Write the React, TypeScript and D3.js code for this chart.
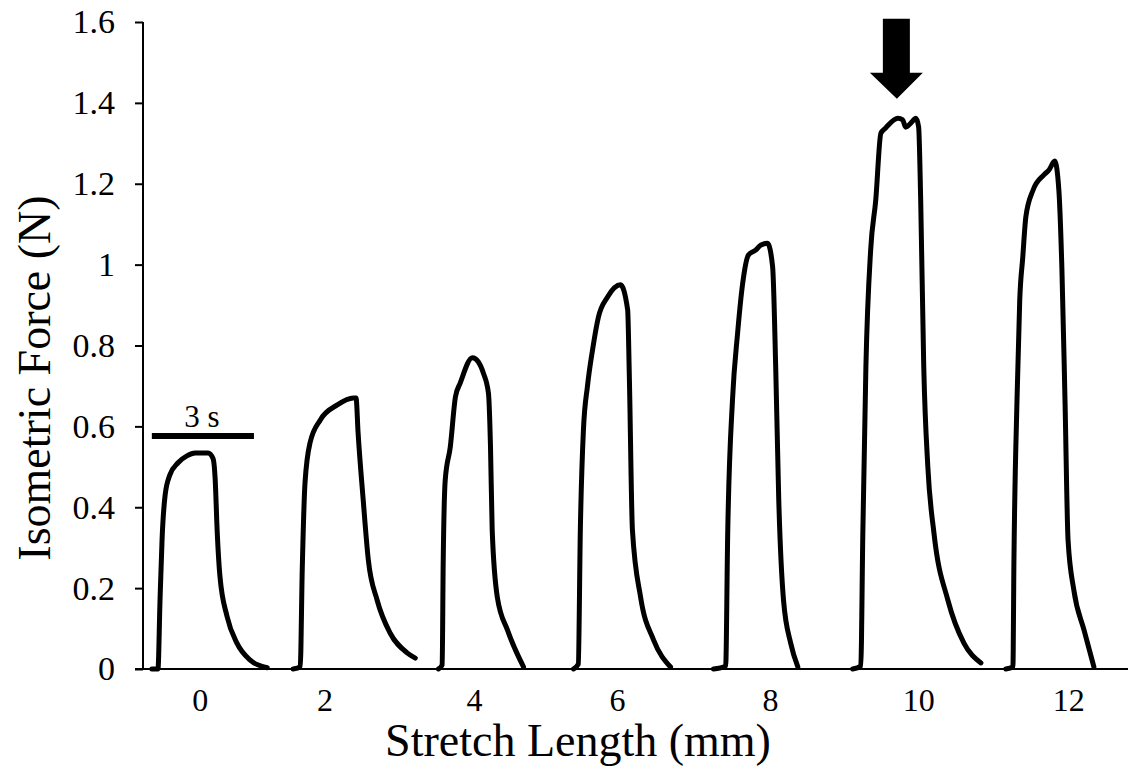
import React, { useEffect, useRef } from "react";
import * as d3 from "d3";

// stretch lengths (mm) shown under each twitch
const stretchLabels = ["0", "2", "4", "6", "8", "10", "12"];
// where each label sits on the time axis (s)
const labelTimes = [1.68, 5.35, 9.74, 13.94, 18.44, 22.79, 27.2];

const yTicks = [0, 0.2, 0.4, 0.6, 0.8, 1, 1.2, 1.4, 1.6];

// force traces, [time (s), force (N)]
const trace0: [number, number][] = [
  [0.26, 0], [0.44, 0.0], [0.5, 0.17], [0.56, 0.32], [0.65, 0.43], [0.79, 0.48],
  [1.03, 0.51], [1.29, 0.527], [1.53, 0.534], [1.91, 0.534], [2.06, 0.52],
  [2.12, 0.47], [2.18, 0.34], [2.26, 0.23], [2.47, 0.13], [2.76, 0.064],
  [3.15, 0.022], [3.65, 0.003],
];
const trace2: [number, number][] = [
  [4.41, 0], [4.62, 0.005], [4.68, 0.25], [4.76, 0.46], [4.91, 0.56],
  [5.21, 0.616], [5.71, 0.653], [6.18, 0.67], [6.26, 0.67], [6.32, 0.584],
  [6.47, 0.418], [6.62, 0.27], [6.88, 0.17], [7.26, 0.089], [7.76, 0.04],
  [8.0, 0.027],
];
const trace4: [number, number][] = [
  [8.68, 0], [8.79, 0.01], [8.82, 0.26], [8.88, 0.467], [9.03, 0.55],
  [9.18, 0.673], [9.32, 0.707], [9.68, 0.77], [9.85, 0.76], [10.0, 0.732],
  [10.15, 0.682], [10.21, 0.55], [10.26, 0.344], [10.41, 0.178],
  [10.71, 0.096], [11.18, 0.005],
];
const trace6: [number, number][] = [
  [12.65, 0], [12.79, 0.012], [12.85, 0.344], [12.94, 0.59], [13.06, 0.7],
  [13.21, 0.79], [13.38, 0.87], [13.65, 0.92], [14.03, 0.95], [14.24, 0.888],
  [14.29, 0.722], [14.38, 0.344], [14.62, 0.178], [15.0, 0.072], [15.5, 0.005],
];
const trace8: [number, number][] = [
  [16.76, 0], [17.12, 0.007], [17.18, 0.336], [17.32, 0.665], [17.47, 0.83],
  [17.62, 0.954], [17.79, 1.024], [18.0, 1.036], [18.15, 1.048],
  [18.35, 1.053], [18.5, 0.994], [18.59, 0.747], [18.68, 0.418],
  [18.82, 0.17], [19.03, 0.064], [19.24, 0.005],
];
const trace10: [number, number][] = [
  [20.85, 0], [21.09, 0.007], [21.15, 0.336], [21.24, 0.747], [21.38, 1.036],
  [21.53, 1.16], [21.68, 1.325], [21.82, 1.338], [22.18, 1.362],
  [22.32, 1.358], [22.41, 1.34], [22.56, 1.35], [22.71, 1.362], [22.79, 1.34],
  [22.85, 1.16], [22.94, 0.747], [23.06, 0.5], [23.24, 0.336], [23.65, 0.17],
  [24.12, 0.064], [24.62, 0.015],
];
const trace12: [number, number][] = [
  [25.35, 0], [25.56, 0.005], [25.59, 0.27], [25.68, 0.665], [25.76, 0.912],
  [25.85, 1.019], [25.94, 1.118], [26.15, 1.184], [26.47, 1.222],
  [26.62, 1.234], [26.79, 1.256], [26.91, 1.184], [27.0, 0.987],
  [27.09, 0.665], [27.18, 0.319], [27.35, 0.195], [27.65, 0.096],
  [27.94, 0.005],
];
const traces = [trace0, trace2, trace4, trace6, trace8, trace10, trace12];

// 3 s scale bar and the arrow over the optimal length
const scaleBar = { start: 0.26, length: 3, force: 0.576, label: "3 s" };
const arrowTip = { time: 22.15, force: 1.41 };

const W = 1130;
const H = 768;

const ForceChart = () => {
  const ref = useRef<SVGSVGElement | null>(null);

  useEffect(() => {
    if (!ref.current) return;
    const svg = d3.select(ref.current);
    svg.selectAll("*").remove();

    const font = "'Liberation Serif', 'Times New Roman', serif";
    const x = d3.scaleLinear().domain([0, 29]).range([143, 1130]);
    const y = d3.scaleLinear().domain([0, 1.6]).range([669, 22]);

    // y axis
    const yAxis = svg
      .append("g")
      .attr("transform", `translate(${x(0)},0)`)
      .call(
        d3
          .axisLeft(y)
          .tickValues(yTicks)
          .tickSize(8)
          .tickPadding(20)
          .tickFormat((d) => d3.format("")(+d))
      );
    yAxis.select(".domain").remove();
    yAxis.selectAll("line").attr("stroke", "#000").attr("stroke-width", 2);
    yAxis
      .selectAll("text")
      .attr("font-family", font)
      .attr("font-size", 34)
      .attr("fill", "#000");
    svg
      .append("line")
      .attr("x1", x(0))
      .attr("x2", x(0))
      .attr("y1", y(1.6))
      .attr("y2", y(0))
      .attr("stroke", "#000")
      .attr("stroke-width", 2);

    // x axis line
    svg
      .append("line")
      .attr("x1", x(0) - 8)
      .attr("x2", 1128)
      .attr("y1", y(0))
      .attr("y2", y(0))
      .attr("stroke", "#000")
      .attr("stroke-width", 2);

    // stretch length labels
    svg
      .append("g")
      .selectAll("text")
      .data(stretchLabels)
      .join("text")
      .attr("x", (_, i) => x(labelTimes[i]))
      .attr("y", y(0) + 42)
      .attr("text-anchor", "middle")
      .attr("font-family", font)
      .attr("font-size", 32)
      .text((d) => d);

    // axis titles
    svg
      .append("text")
      .attr("x", 578)
      .attr("y", 756)
      .attr("text-anchor", "middle")
      .attr("font-family", font)
      .attr("font-size", 46)
      .text("Stretch Length (mm)");

    svg
      .append("text")
      .attr("transform", `translate(50,378) rotate(-90)`)
      .attr("text-anchor", "middle")
      .attr("font-family", font)
      .attr("font-size", 46)
      .text("Isometric Force (N)");

    // traces
    const line = d3
      .line<[number, number]>()
      .x((d) => x(d[0]))
      .y((d) => y(d[1]))
      .curve(d3.curveMonotoneX);

    svg
      .append("g")
      .selectAll("path")
      .data(traces)
      .join("path")
      .attr("d", (d) => line(d))
      .attr("fill", "none")
      .attr("stroke", "#000")
      .attr("stroke-width", 5)
      .attr("stroke-linejoin", "round")
      .attr("stroke-linecap", "round");

    // scale bar
    svg
      .append("line")
      .attr("x1", x(scaleBar.start))
      .attr("x2", x(scaleBar.start + scaleBar.length))
      .attr("y1", y(scaleBar.force))
      .attr("y2", y(scaleBar.force))
      .attr("stroke", "#000")
      .attr("stroke-width", 6);
    svg
      .append("text")
      .attr("x", x(scaleBar.start + scaleBar.length / 2) - 1)
      .attr("y", y(scaleBar.force) - 9)
      .attr("text-anchor", "middle")
      .attr("font-family", font)
      .attr("font-size", 31)
      .text(scaleBar.label);

    // arrow
    const ax = x(arrowTip.time);
    const ay = y(arrowTip.force);
    svg
      .append("path")
      .attr(
        "d",
        `M${ax},${ay} L${ax - 27},${ay - 26} L${ax - 14},${ay - 26} L${ax - 14},${ay - 80} ` +
          `L${ax + 13},${ay - 80} L${ax + 13},${ay - 26} L${ax + 26},${ay - 26} Z`
      )
      .attr("fill", "#000");
  }, []);

  return (
    <svg
      ref={ref}
      width={W}
      height={H}
      style={{ position: "absolute", left: 0, top: 0, background: "#fff" }}
    />
  );
};

export default function App() {
  return <ForceChart />;
}
